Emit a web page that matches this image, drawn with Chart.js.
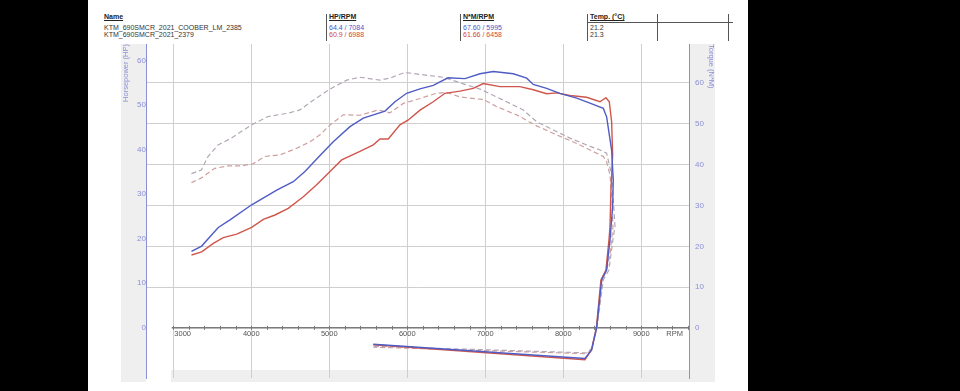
<!DOCTYPE html>
<html>
<head>
<meta charset="utf-8">
<script src="https://cdn.jsdelivr.net/npm/chart.js@4/dist/chart.umd.min.js"></script>
<style>
  html, body { margin: 0; padding: 0; background: #000; }
  #wrap { position: relative; width: 960px; height: 391px; overflow: hidden; }
  #panel { position: absolute; left: 88px; top: 0; width: 660px; height: 391px; background: #fff; }
  #dyno { position: absolute; left: 0; top: 0; }
  .t { position: absolute; font-family: "Liberation Sans", Arial, sans-serif; font-size: 7px; line-height: 8px; color: #333; white-space: nowrap; }
  .h { text-decoration: underline; font-weight: bold; color: #222; }
  .blue { color: #4a55c8; }
  .red { color: #d0463c; }
  .vl { position: absolute; width: 1px; background: #555; top: 14px; height: 27px; }
  .hl { position: absolute; height: 1px; background: #555; }
</style>
</head>
<body>
<div id="wrap">
  <div id="panel"></div>
  <div class="t h" style="left:104px;top:13px">Name</div>
  <div class="t h" style="left:329px;top:13px">HP/RPM</div>
  <div class="t h" style="left:463px;top:13px">N*M/RPM</div>
  <div class="t h" style="left:590px;top:13px">Temp. (°C)</div>
  <div class="hl" style="left:587px;top:22px;width:146px"></div>
  <div class="vl" style="left:326px"></div>
  <div class="vl" style="left:460px"></div>
  <div class="vl" style="left:587px"></div>
  <div class="vl" style="left:657px"></div>
  <div class="vl" style="left:728px"></div>
  <div class="t" style="left:104px;top:24px">KTM_690SMCR_2021_COOBER_LM_2385</div>
  <div class="t blue" style="left:329px;top:24px">64.4 / 7084</div>
  <div class="t blue" style="left:463px;top:24px">67.60 / 5995</div>
  <div class="t" style="left:590px;top:24px">21.2</div>
  <div class="t" style="left:104px;top:31px">KTM_690SMCR_2021_2379</div>
  <div class="t red" style="left:329px;top:31px">60.9 / 6988</div>
  <div class="t red" style="left:463px;top:31px">61.66 / 6458</div>
  <div class="t" style="left:590px;top:31px">21.3</div>
  <canvas id="dyno" width="960" height="391"></canvas>
</div>
<script>
// run 1 (COOBER) power, blue
const run1HpRpm = [3233, 3364, 3470, 3577, 3727, 4005, 4326, 4538, 4688, 4881, 5051, 5265, 5436, 5714, 5842, 5992, 6163, 6333, 6522, 6740, 6932, 7102, 7359, 7531, 7615, 7787, 7957, 8172, 8342, 8513, 8556, 8620, 8641, 8633, 8599, 8556, 8492, 8428, 8364, 8278, 5564];
const run1Hp = [17.1, 18.3, 20.4, 22.5, 24.2, 27.6, 30.9, 32.8, 35.1, 38.7, 41.8, 45.2, 47.1, 48.7, 50.8, 52.7, 53.7, 54.5, 56.2, 56.0, 57.1, 57.6, 57.1, 56.1, 54.7, 53.8, 52.7, 51.6, 50.5, 49.3, 47.4, 39.9, 33.2, 27.2, 19.7, 12.9, 10.7, 0, -5.1, -7.0, -3.8];

// run 2 power, red
const run2HpRpm = [3233, 3364, 3513, 3641, 3813, 4005, 4154, 4304, 4474, 4667, 4838, 5009, 5159, 5393, 5564, 5650, 5756, 5906, 6013, 6163, 6333, 6483, 6675, 6846, 6974, 7188, 7445, 7615, 7787, 7915, 8086, 8300, 8470, 8547, 8590, 8620, 8633, 8611, 8599, 8586, 8547, 8483, 8425, 8361, 8278, 5564];
const run2Hp = [16.3, 17.0, 18.9, 20.2, 21.0, 22.5, 24.3, 25.3, 26.8, 29.4, 32.1, 35.1, 37.7, 39.6, 41.1, 42.4, 42.4, 45.6, 46.7, 48.9, 50.8, 52.7, 53.2, 53.8, 54.9, 54.2, 54.2, 53.5, 52.6, 52.8, 52.2, 51.8, 50.8, 51.7, 50.8, 46.3, 38.8, 30.9, 22.7, 19.7, 12.9, 10.7, 0, -5.1, -7.3, -3.9];

// run 1 torque, dashed
const run1NmRpm = [3233, 3359, 3445, 3573, 3744, 4000, 4214, 4470, 4624, 4795, 5009, 5223, 5393, 5650, 5778, 5970, 6163, 6461, 6718, 6932, 7231, 7487, 7659, 7872, 8086, 8300, 8470, 8556, 8620, 8663, 8641, 8586, 8513, 8432, 8364, 8300, 5564];
const run1Nm = [37.8, 38.7, 42.0, 44.8, 46.5, 49.7, 51.8, 52.6, 53.4, 55.8, 58.5, 60.7, 61.4, 60.7, 61.2, 62.6, 62.1, 61.4, 59.8, 58.5, 55.8, 53.4, 50.5, 48.5, 46.5, 44.8, 43.6, 42.8, 37.5, 24.8, 22.3, 14.2, 11.8, 0, -5.0, -6.1, -4.5];

// run 2 torque, dashed
const run2NmRpm = [3233, 3355, 3531, 3701, 3872, 4022, 4172, 4368, 4582, 4753, 4881, 5009, 5179, 5393, 5628, 5778, 5949, 6163, 6377, 6505, 6675, 6890, 6974, 7146, 7402, 7659, 7915, 8172, 8342, 8513, 8556, 8599, 8624, 8637, 8599, 8556, 8496, 8428, 8364, 8300, 5564];
const run2Nm = [35.6, 36.7, 39.1, 39.7, 39.7, 40.2, 42.0, 42.4, 44.0, 45.6, 47.3, 49.7, 52.2, 52.1, 53.4, 52.7, 55.0, 56.2, 57.5, 57.7, 56.6, 56.1, 56.0, 54.2, 52.2, 49.5, 47.3, 45.2, 43.6, 42.0, 40.7, 37.5, 31.4, 24.8, 17.9, 14.2, 11.8, 0, -5.4, -6.3, -4.7];

const hpTicks = [0, 10, 20, 30, 40, 50, 60];
const nmTicks = [0, 10, 20, 30, 40, 50, 60];
const rpmTicks = [3000, 4000, 5000, 6000, 7000, 8000, 9000];
const rpmMinorStep = 200;

const axisBlue = "#8b8fd6";
const toPoints = (xs, ys) => xs.map((x, i) => ({ x: x, y: ys[i] }));

// gray side bands + the RPM axis drawn on the zero line
const dynoFrame = {
    id: "dynoFrame",
    beforeDraw(chart) {
        const { ctx, chartArea: a } = chart;
        ctx.save();
        ctx.fillStyle = "#efefef";
        ctx.fillRect(a.left - 25, a.top, 25, a.bottom - a.top + 4);
        ctx.fillRect(a.right, a.top, 26, a.bottom - a.top + 4);
        ctx.fillRect(a.left + 25, a.bottom - 8, a.right - a.left, 12);
        ctx.restore();
    },
    beforeDatasetsDraw(chart) {
        const { ctx, chartArea: a } = chart;
        const x = chart.scales.x;
        const y0 = chart.scales.y.getPixelForValue(0);
        ctx.save();
        ctx.strokeStyle = "#333";
        ctx.lineWidth = 1;
        ctx.beginPath();
        ctx.moveTo(x.getPixelForValue(2980), y0 + 0.5);
        ctx.lineTo(a.right, y0 + 0.5);
        ctx.stroke();
        ctx.strokeStyle = "#777";
        ctx.beginPath();
        for (let r = rpmTicks[0]; r < x.max; r += rpmMinorStep) {
            const px = Math.round(x.getPixelForValue(r)) + 0.5;
            ctx.moveTo(px, y0 - 1.5);
            ctx.lineTo(px, y0 + 2.5);
        }
        ctx.stroke();
        ctx.fillStyle = "#555";
        ctx.font = "7.5px 'Liberation Sans', Arial, sans-serif";
        ctx.textBaseline = "middle";
        rpmTicks.forEach((r, i) => {
            ctx.textAlign = i === 0 ? "left" : "center";
            ctx.fillText(String(r), x.getPixelForValue(r) + (i === 0 ? 1 : 0), y0 + 7);
        });
        ctx.textAlign = "right";
        ctx.fillText("RPM", a.right - 6, y0 + 7);
        ctx.restore();
    },
};

const ctx = document.getElementById("dyno").getContext("2d");

const dynoChart = new Chart(ctx, {
    type: "line",
    data: {
        datasets: [
            {
                label: "KTM_690SMCR_2021_COOBER_LM_2385 HP",
                data: toPoints(run1HpRpm, run1Hp),
                yAxisID: "y",
                borderColor: "#4f5cc4",
                borderWidth: 1.4,
            },
            {
                label: "KTM_690SMCR_2021_2379 HP",
                data: toPoints(run2HpRpm, run2Hp),
                yAxisID: "y",
                borderColor: "#d0564c",
                borderWidth: 1.4,
            },
            {
                label: "KTM_690SMCR_2021_COOBER_LM_2385 N*M",
                data: toPoints(run1NmRpm, run1Nm),
                yAxisID: "y1",
                borderColor: "#b3a7b6",
                borderWidth: 1.2,
                borderDash: [5, 3],
            },
            {
                label: "KTM_690SMCR_2021_2379 N*M",
                data: toPoints(run2NmRpm, run2Nm),
                yAxisID: "y1",
                borderColor: "#cf9f9f",
                borderWidth: 1.2,
                borderDash: [5, 3],
            },
        ],
    },
    options: {
        responsive: false,
        animation: false,
        events: [],
        tension: 0,
        elements: { point: { radius: 0 }, line: { tension: 0 } },
        layout: { padding: { left: 88, right: 212, top: 44, bottom: 13 } },
        plugins: { legend: { display: false }, tooltip: { enabled: false } },
        scales: {
            x: {
                type: "linear",
                min: 2650,
                max: 9612,
                afterBuildTicks: (s) => { s.ticks = rpmTicks.map((v) => ({ value: v })); },
                afterFit: (s) => { s.height = 0; },
                ticks: { display: false },
                border: { display: false },
                grid: { color: "#cfcfcf", drawTicks: false },
            },
            y: {
                position: "left",
                min: -11.4,
                max: 63.8,
                afterBuildTicks: (s) => { s.ticks = hpTicks.map((v) => ({ value: v })); },
                afterFit: (s) => { s.width = 58; },
                ticks: { color: axisBlue, padding: 0, font: { size: 8, family: "'Liberation Sans', Arial" } },
                grid: { drawOnChartArea: false, drawTicks: false },
                border: { color: axisBlue, width: 1 },
                title: {
                    display: true,
                    text: "Horsepower (HP)",
                    align: "end",
                    color: axisBlue,
                    font: { size: 7.5, family: "'Liberation Sans', Arial" },
                    padding: { top: 33, bottom: 0 },
                },
            },
            y1: {
                position: "right",
                min: -12.25,
                max: 69.55,
                afterBuildTicks: (s) => { s.ticks = nmTicks.map((v) => ({ value: v })); },
                afterFit: (s) => { s.width = 59; },
                ticks: { color: axisBlue, padding: 6, font: { size: 8, family: "'Liberation Sans', Arial" } },
                grid: {
                    drawTicks: false,
                    color: (c) => (c.tick && c.tick.value === 0 ? "rgba(0,0,0,0)" : "#cfcfcf"),
                },
                border: { color: axisBlue, width: 1 },
                title: {
                    display: true,
                    text: "Torque (N*M)",
                    align: "end",
                    color: axisBlue,
                    font: { size: 7.5, family: "'Liberation Sans', Arial" },
                    padding: { top: 32, bottom: 0 },
                },
            },
        },
    },
    plugins: [dynoFrame],
});
</script>
</body>
</html>
